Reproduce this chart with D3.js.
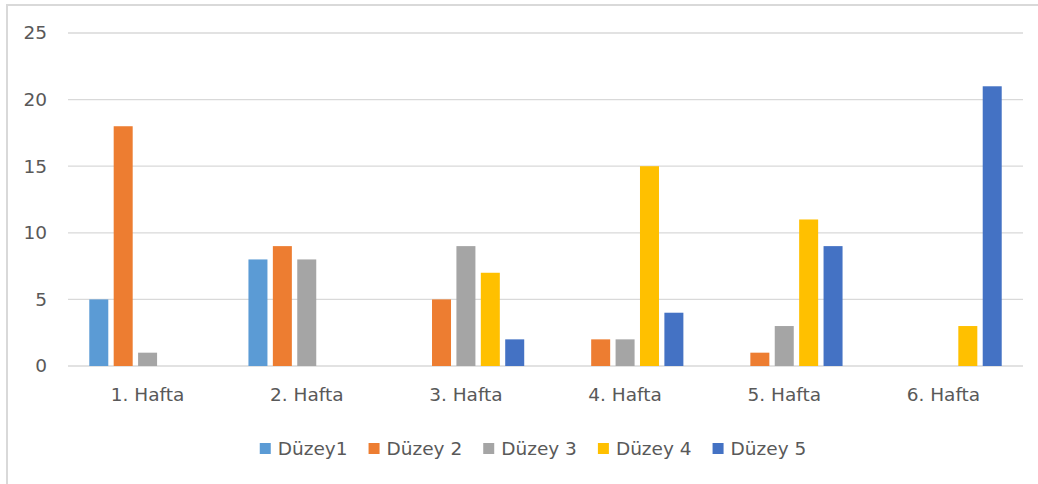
<!DOCTYPE html>
<html>
<head>
<meta charset="utf-8">
<script src="https://cdn.jsdelivr.net/npm/d3@7"></script>
<style>
  body { margin: 0; background: #fff; overflow: hidden; }
  svg { display: block; font-family: "DejaVu Sans", sans-serif; }
  .grid line { stroke: #d9d9d9; stroke-width: 1.3; }
  .lbl { fill: #595959; font-size: 18.5px; }
</style>
</head>
<body>
<svg id="chart" width="1038" height="484"></svg>
<script>
var categories = ["1. Hafta", "2. Hafta", "3. Hafta", "4. Hafta", "5. Hafta", "6. Hafta"];
var seriesNames = ["Düzey1", "Düzey 2", "Düzey 3", "Düzey 4", "Düzey 5"];
var seriesColors = ["#5b9bd5", "#ed7d31", "#a5a5a5", "#ffc000", "#4472c4"];
var duzey1 = [5, 8, 0, 0, 0, 0];
var duzey2 = [18, 9, 5, 2, 1, 0];
var duzey3 = [1, 8, 9, 2, 3, 0];
var duzey4 = [0, 0, 7, 15, 11, 3];
var duzey5 = [0, 0, 2, 4, 9, 21];
var yTicks = [0, 5, 10, 15, 20, 25];

var values = [duzey1, duzey2, duzey3, duzey4, duzey5];

var svg = d3.select("#chart");

// outer chart frame (cropped on right and bottom)
svg.append("rect")
  .attr("x", 7).attr("y", 5)
  .attr("width", 1200).attr("height", 700)
  .attr("fill", "none")
  .attr("stroke", "#d9d9d9")
  .attr("stroke-width", 2);

var plotL = 68, plotR = 1023, plotT = 33, plotB = 366;

var x = d3.scaleBand().domain(categories).range([plotL, plotR]);
var y = d3.scaleLinear().domain([0, 25]).range([plotB, plotT]);
var barStep = 24.4, barW = 19;
var half = (4 * barStep + barW) / 2;
var xs = d3.scaleBand().domain(seriesNames)
  .range([-half, half]).paddingInner((barStep - barW) / barStep);

// gridlines
var grid = svg.append("g").attr("class", "grid");
grid.selectAll("line").data(yTicks).enter().append("line")
  .attr("x1", plotL).attr("x2", plotR)
  .attr("y1", function(d) { return y(d); })
  .attr("y2", function(d) { return y(d); });

// y labels
svg.selectAll(".ylbl").data(yTicks).enter().append("text")
  .attr("class", "lbl ylbl")
  .attr("x", 47)
  .attr("y", function(d) { return y(d); })
  .attr("dy", "0.35em")
  .attr("text-anchor", "end")
  .text(function(d) { return d; });

// bars
var groups = svg.append("g").selectAll("g").data(categories).enter().append("g")
  .attr("transform", function(c) { return "translate(" + (x(c) + x.bandwidth() / 2) + ",0)"; });

groups.selectAll("rect")
  .data(function(c, i) {
    return seriesNames.map(function(s, j) { return { s: s, v: values[j][i], color: seriesColors[j] }; });
  })
  .enter().append("rect")
  .attr("x", function(d) { return xs(d.s); })
  .attr("width", xs.bandwidth())
  .attr("y", function(d) { return y(d.v); })
  .attr("height", function(d) { return plotB - y(d.v); })
  .attr("fill", function(d) { return d.color; });

// x labels
svg.selectAll(".xlbl").data(categories).enter().append("text")
  .attr("class", "lbl xlbl")
  .attr("x", function(c) { return x(c) + x.bandwidth() / 2; })
  .attr("y", 395)
  .attr("dy", "0.35em")
  .attr("text-anchor", "middle")
  .text(function(c) { return c; });

// legend
var legend = svg.append("g");
var lx = 0;
seriesNames.forEach(function(s, j) {
  var item = legend.append("g").attr("transform", "translate(" + lx + ",0)");
  item.append("rect").attr("x", 0).attr("y", -6).attr("width", 11).attr("height", 11)
    .attr("fill", seriesColors[j]);
  var t = item.append("text").attr("class", "lbl").attr("x", 18).attr("dy", "0.35em").text(s);
  lx += 18 + t.node().getComputedTextLength() + 21;
});
lx -= 21;
legend.attr("transform", "translate(" + (533 - lx / 2) + ",449)");
</script>
</body>
</html>
